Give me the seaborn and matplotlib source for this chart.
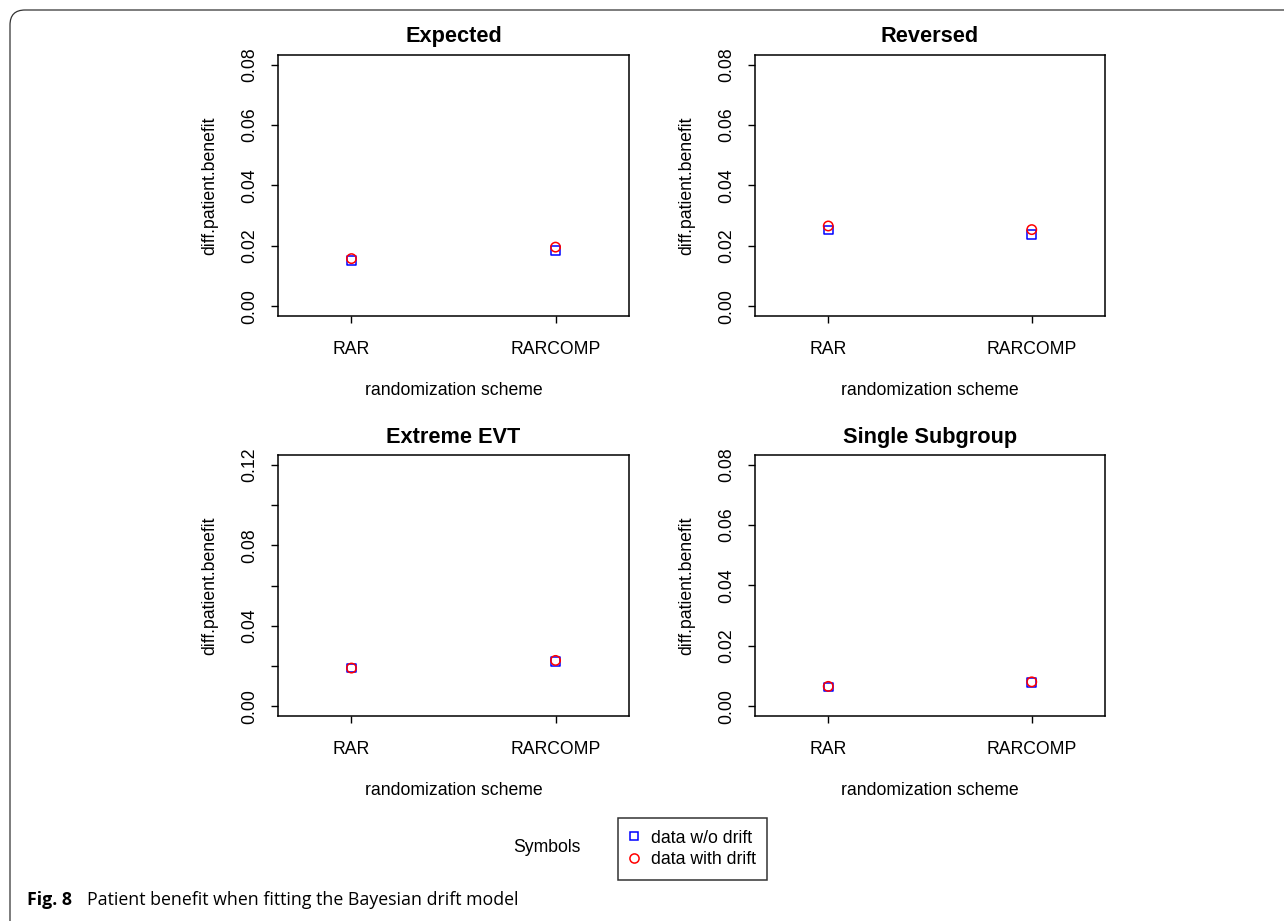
import matplotlib
matplotlib.use("Agg")
import matplotlib.pyplot as plt
from matplotlib.lines import Line2D
from matplotlib.patches import FancyBboxPatch
import pandas as pd
import seaborn as sns

# values
panels = ["Expected", "Reversed", "Extreme EVT", "Single Subgroup"]
schemes = ["RAR", "RARCOMP"]
no_drift = {
    "Expected": [0.0151, 0.0185],
    "Reversed": [0.0253, 0.0239],
    "Extreme EVT": [0.0190, 0.0222],
    "Single Subgroup": [0.0064, 0.0078],
}
with_drift = {
    "Expected": [0.0158, 0.0196],
    "Reversed": [0.0266, 0.0254],
    "Extreme EVT": [0.0190, 0.0228],
    "Single Subgroup": [0.0066, 0.0081],
}
small_ticks = [0.00, 0.02, 0.04, 0.06, 0.08]
small_labels = ["0.00", "0.02", "0.04", "0.06", "0.08"]
big_ticks = [0.00, 0.02, 0.04, 0.06, 0.08, 0.10, 0.12]
big_labels = ["0.00", "", "0.04", "", "0.08", "", "0.12"]
legend_labels = ["data w/o drift", "data with drift"]

rows = []
for p in panels:
    for i, s in enumerate(schemes):
        rows.append((p, s, "w/o", no_drift[p][i]))
        rows.append((p, s, "with", with_drift[p][i]))
df = pd.DataFrame(rows, columns=["panel", "scheme", "drift", "value"])

sns.set_style("ticks")
plt.rcParams["font.family"] = ["Liberation Sans", "DejaVu Sans"]
plt.rcParams.update({"text.color": "black", "axes.labelcolor": "black",
                     "xtick.color": "black", "ytick.color": "black"})

W, H = 1284, 921
fig = plt.figure(figsize=(W / 100, H / 100), dpi=100)

# rounded frame round the figure (open to the right and bottom)
frame = FancyBboxPatch((0.1, -0.5), 14.0, 9.21 - 0.1 + 0.5,
                       boxstyle="round,pad=0,rounding_size=0.15",
                       transform=fig.dpi_scale_trans, fill=False,
                       edgecolor="#333333", linewidth=0.9)
fig.patches.append(frame)

# axes boxes in pixels: (left, top, right, bottom)
boxes = {
    "Expected": (278, 55, 629, 316),
    "Reversed": (755, 55, 1105, 316),
    "Extreme EVT": (278, 455, 629, 716),
    "Single Subgroup": (755, 455, 1105, 716),
}

styles = {"w/o": ("s", "blue", 40), "with": ("o", "red", 46)}

for p in panels:
    l, t, r, b = boxes[p]
    ax = fig.add_axes([l / W, 1 - b / H, (r - l) / W, (b - t) / H])
    sub = df[df["panel"] == p]
    for d in ["w/o", "with"]:
        m, c, sz = styles[d]
        sns.scatterplot(data=sub[sub["drift"] == d], x="scheme", y="value",
                        marker=m, s=sz, color=c, facecolor="none",
                        edgecolor=c, linewidth=1.1, ax=ax, legend=False)
    ax.set_xlim(-0.36, 1.36)
    if p == "Extreme EVT":
        ax.set_ylim(-0.0048, 0.1248)
        ax.set_yticks(big_ticks)
        ax.set_yticklabels(big_labels)
    else:
        ax.set_ylim(-0.0032, 0.0832)
        ax.set_yticks(small_ticks)
        ax.set_yticklabels(small_labels)
    for lab in ax.get_yticklabels():
        lab.set_rotation(90)
        lab.set_va("center")
    ax.tick_params(axis="both", direction="out", length=5, width=1,
                   labelsize=12.7, colors="black")
    ax.tick_params(axis="x", pad=13)
    ax.tick_params(axis="y", pad=9)
    ax.set_title(p, fontsize=15.7, fontweight="bold", pad=9, color="black")
    ax.set_xlabel("randomization scheme", fontsize=12.7, labelpad=17)
    ax.set_ylabel("diff.patient.benefit", fontsize=12.7, labelpad=17)
    for sp in ax.spines.values():
        sp.set_visible(True)
        sp.set_linewidth(1.1)
        sp.set_color("black")

handles = [
    Line2D([], [], linestyle="", marker="s", markersize=6.3,
           markerfacecolor="none", markeredgecolor="blue", markeredgewidth=1.1),
    Line2D([], [], linestyle="", marker="o", markersize=6.6,
           markerfacecolor="none", markeredgecolor="red", markeredgewidth=1.1),
]
leg = fig.legend(handles, legend_labels, loc="upper left",
                 bbox_to_anchor=(618 / W, 1 - 818 / H), fontsize=12.7,
                 frameon=True, fancybox=False, edgecolor="black",
                 handlelength=0.5, handletextpad=0.7, borderpad=0.66,
                 labelspacing=0.26, borderaxespad=0)
leg.get_frame().set_linewidth(1.1)
fig.text(547 / W, 1 - 847 / H, "Symbols", fontsize=12.7, ha="center", va="center")

fig.text(27 / W, 1 - 905 / H, "Fig. 8", fontsize=12.8, fontweight="bold",
         family=["Open Sans", "DejaVu Sans"], va="baseline")
fig.text(87 / W, 1 - 905 / H, "Patient benefit when fitting the Bayesian drift model",
         fontsize=12.8, family=["Open Sans", "DejaVu Sans"], va="baseline")

fig.savefig("out.png", dpi=100)
